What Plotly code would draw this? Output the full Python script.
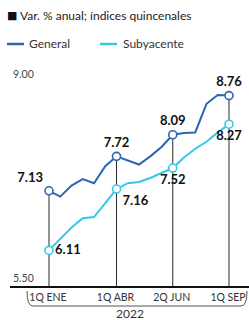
import plotly.graph_objects as go

periods = ["1Q ENE", "2Q ENE", "1Q FEB", "2Q FEB", "1Q MAR", "2Q MAR",
           "1Q ABR", "2Q ABR", "1Q MAY", "2Q MAY", "1Q JUN", "2Q JUN",
           "1Q JUL", "2Q JUL", "1Q AGO", "2Q AGO", "1Q SEP"]
general = [7.13, 7.03, 7.22, 7.33, 7.26, 7.55, 7.72, 7.65, 7.58, 7.72,
           7.88, 8.09, 8.12, 8.13, 8.62, 8.77, 8.76]
subyacente = [6.11, 6.30, 6.50, 6.66, 6.68, 6.92, 7.16, 7.26, 7.28, 7.35,
              7.44, 7.52, 7.70, 7.85, 7.97, 8.13, 8.27]
tick_periods = ["1Q ENE", "1Q ABR", "2Q JUN", "1Q SEP"]
y_ticks = [5.50, 9.00]
year_label = "2022"
title_text = "Var. % anual; índices quincenales"

BLUE = "#2a66b4"
CYAN = "#35c8ea"
FONT = "Lato"

idx = [periods.index(p) for p in tick_periods]
y_min = y_ticks[0]

fig = go.Figure()

# drop lines from highlighted points to axis
dx, dy = [], []
for i in idx:
    dx += [periods[i], periods[i], None]
    dy += [max(general[i], subyacente[i]), y_min, None]
fig.add_trace(go.Scatter(x=dx, y=dy, mode="lines",
                         line=dict(color="#2b2b2b", width=1),
                         hoverinfo="skip", showlegend=False))

fig.add_trace(go.Scatter(x=periods, y=general, mode="lines", name="General",
                         line=dict(color=BLUE, width=2), showlegend=False))
fig.add_trace(go.Scatter(x=periods, y=subyacente, mode="lines", name="Subyacente",
                         line=dict(color=CYAN, width=2), showlegend=False))

gen_pos = ["top left", "top center", "top center", "top center"]
sub_pos = ["middle right", "bottom right", "bottom center", "bottom center"]
fig.add_trace(go.Scatter(
    x=[periods[i] for i in idx], y=[general[i] for i in idx],
    mode="markers+text", text=[f"{general[i]:.2f}" for i in idx],
    textposition=gen_pos,
    textfont=dict(family=FONT, size=13, color="#111", weight="bold"),
    marker=dict(symbol="circle", size=8, color="white",
                line=dict(color=BLUE, width=1.6)),
    showlegend=False, cliponaxis=False))
fig.add_trace(go.Scatter(
    x=[periods[i] for i in idx], y=[subyacente[i] for i in idx],
    mode="markers+text", text=[f"{subyacente[i]:.2f}" for i in idx],
    textposition=sub_pos,
    textfont=dict(family=FONT, size=13, color="#111", weight="bold"),
    marker=dict(symbol="circle", size=8, color="white",
                line=dict(color=CYAN, width=1.6)),
    showlegend=False, cliponaxis=False))

W, H = 249, 320
plot_left, plot_top, plot_bottom = 10, 67, 286   # window pixels
ml, mr, mt, mb = plot_left, 0, plot_top, H - plot_bottom
pw = W - plot_left
ph = plot_bottom - plot_top
step = 11.25
x0 = -(49 - plot_left) / step
x1 = (len(periods) - 1) + (W - 229) / step
y_top = y_ticks[1] + 0.25


def px(xp):
    return (xp - plot_left) / pw


def py(yp):
    return (plot_bottom - yp) / ph


shapes = [
    # legend samples
    dict(type="line", xref="paper", yref="paper", x0=px(7), x1=px(24),
         y0=py(44), y1=py(44), line=dict(color=BLUE, width=2.5)),
    dict(type="line", xref="paper", yref="paper", x0=px(100), x1=px(117),
         y0=py(44), y1=py(44), line=dict(color=CYAN, width=2.5)),
    # bracket under x labels
    dict(type="path", xref="paper", yref="paper",
         path=(f"M {px(27)},{py(291)} Q {px(27)},{py(306)} {px(33)},{py(306)} "
               f"L {px(241)},{py(306)} Q {px(247)},{py(306)} {px(247)},{py(291)}"),
         line=dict(color="#555", width=1)),
]

annotations = [
    dict(text="General", xref="paper", yref="paper", x=px(27), y=py(44),
         xanchor="left", yanchor="middle", showarrow=False,
         font=dict(family=FONT, size=12, color="#333")),
    dict(text="Subyacente", xref="paper", yref="paper", x=px(121), y=py(44),
         xanchor="left", yanchor="middle", showarrow=False,
         font=dict(family=FONT, size=12, color="#333")),
    dict(text="■", xref="paper", yref="paper", x=px(5), y=py(16),
         xanchor="left", yanchor="middle", showarrow=False,
         font=dict(family="DejaVu Sans", size=11, color="#111")),
    dict(text=title_text, xref="paper", yref="paper", x=px(18), y=py(16),
         xanchor="left", yanchor="middle", showarrow=False,
         font=dict(family=FONT, size=12, color="#222")),
    dict(text=year_label, xref="paper", yref="paper", x=px(130), y=py(313),
         xanchor="center", yanchor="middle", showarrow=False,
         font=dict(family=FONT, size=12, color="#333")),
]

fig.update_layout(
    width=W, height=H,
    margin=dict(l=ml, r=mr, t=mt, b=mb),
    paper_bgcolor="white", plot_bgcolor="white",
    shapes=shapes, annotations=annotations,
    xaxis=dict(type="category", categoryorder="array", categoryarray=periods,
               range=[x0, x1], tickmode="array",
               tickvals=tick_periods, ticktext=tick_periods,
               ticklabelshift=-1,
               showgrid=False, zeroline=False, showline=True,
               linecolor="#111", linewidth=2, ticks="",
               tickfont=dict(family=FONT, size=10.5, color="#333")),
    yaxis=dict(range=[y_ticks[0], y_top], tickmode="array",
               tickvals=y_ticks, ticktext=[f"{v:.2f}" for v in y_ticks],
               ticklabelposition="inside top", showgrid=False,
               zeroline=False, showline=False, ticks="",
               tickfont=dict(family=FONT, size=10.5, color="#444")),
    showlegend=False,
)

fig.write_html(
    "out.html",
    config={"displayModeBar": False},
    post_script="document.body.style.margin='0';document.body.style.overflow='hidden';",
)
